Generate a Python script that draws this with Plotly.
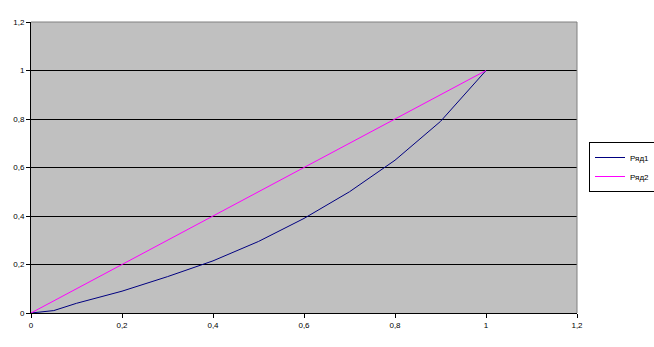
import plotly.graph_objects as go

x_vals = [0, 0.05, 0.1, 0.2, 0.3, 0.4, 0.5, 0.6, 0.7, 0.8, 0.9, 1.0]
series1 = [0, 0.01, 0.04, 0.09, 0.15, 0.215, 0.295, 0.39, 0.5, 0.63, 0.79, 1.0]
series2_x = [0, 1.0]
series2 = [0, 1.0]
names = ["Ряд1", "Ряд2"]
tick_vals = [0, 0.2, 0.4, 0.6, 0.8, 1.0, 1.2]

fig = go.Figure()
fig.add_trace(go.Scatter(x=x_vals, y=series1, mode="lines", name=names[0],
                         line=dict(color="#000080", width=1)))
fig.add_trace(go.Scatter(x=series2_x, y=series2, mode="lines", name=names[1],
                         line=dict(color="#FF00FF", width=1)))

font = dict(family="Liberation Sans, Arial", size=8, color="black")
fig.update_layout(
    width=654, height=347,
    margin=dict(l=31, r=77, t=22, b=34, autoexpand=False),
    paper_bgcolor="white", plot_bgcolor="#C0C0C0",
    separators=", ",
    font=font,
    showlegend=True,
    legend=dict(xref="container", yref="container",
                x=589 / 654, y=1 - 167 / 347, xanchor="left", yanchor="middle",
                bgcolor="white", bordercolor="black", borderwidth=1,
                font=dict(family="Liberation Sans, Arial", size=8, color="black"),
                itemwidth=30, tracegroupgap=0),
    xaxis=dict(range=[0, 1.2], tickvals=tick_vals, showgrid=False, zeroline=False,
               showline=True, linecolor="black", linewidth=1,
               ticks="outside", ticklen=4, tickcolor="black", tickfont=font),
    yaxis=dict(range=[0, 1.2], tickvals=tick_vals, showgrid=True, gridcolor="black",
               gridwidth=1, zeroline=False, showline=True, linecolor="black",
               linewidth=1, ticks="outside", ticklen=4, tickcolor="black", tickfont=font),
)
# gray top/right border
fig.add_shape(type="line", xref="paper", yref="paper", x0=0, x1=1, y0=1, y1=1,
              line=dict(color="#808080", width=1))
fig.add_shape(type="line", xref="paper", yref="paper", x0=1, x1=1, y0=0, y1=1,
              line=dict(color="#808080", width=1))

fig.write_html("out.html")
